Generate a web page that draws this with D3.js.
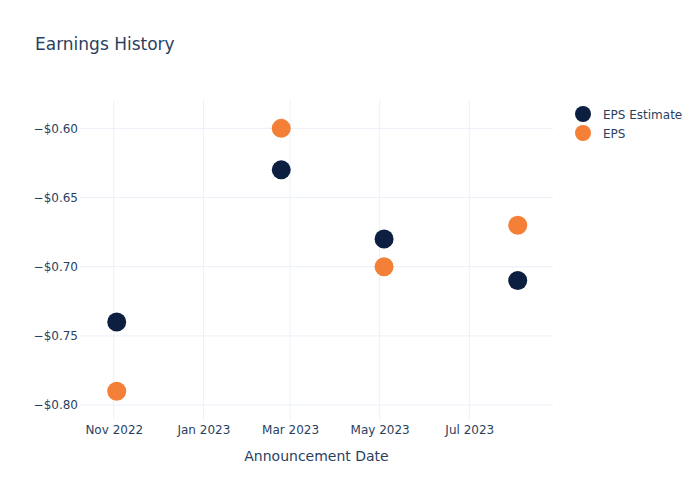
<!DOCTYPE html>
<html><head><meta charset="utf-8">
<script src="https://cdn.jsdelivr.net/npm/d3@7"></script>
<style>body{margin:0;background:#fff;} svg{display:block;font-family:"DejaVu Sans",sans-serif;}</style>
</head><body>
<svg id="c" width="700" height="500"></svg>
<script>
const dates = ["2022-11-03", "2023-02-23", "2023-05-04", "2023-08-03"];
const epsEstimate = [-0.74, -0.63, -0.68, -0.71];
const eps = [-0.79, -0.60, -0.70, -0.67];
const seriesNames = ["EPS Estimate", "EPS"];
const seriesColors = ["#0c1f40", "#f47f36"];
const yTicks = [-0.60, -0.65, -0.70, -0.75, -0.80];
const xTickDates = ["2022-11-01", "2023-01-01", "2023-03-01", "2023-05-01", "2023-07-01"];

const parse = d3.utcParse("%Y-%m-%d");
const svg = d3.select("#c");
const textColor = "#2a3f5f";
const gridColor = "#ebf0f8";
const font = '"DejaVu Sans",sans-serif';
const L = 80, R = 553, T = 100, B = 420;

const x = d3.scaleUtc().domain([parse("2022-10-09"), parse("2023-08-27")]).range([L, R]);
const y = d3.scaleLinear().domain([-0.8108, -0.5795]).range([B, T]);

// grid
const g = svg.append("g");
g.selectAll("line.h").data(yTicks).join("line")
  .attr("x1", L).attr("x2", R).attr("y1", d => y(d)).attr("y2", d => y(d))
  .attr("stroke", gridColor).attr("stroke-width", 1);
g.selectAll("line.v").data(xTickDates).join("line")
  .attr("x1", d => x(parse(d))).attr("x2", d => x(parse(d))).attr("y1", T).attr("y2", B)
  .attr("stroke", gridColor).attr("stroke-width", 1);

// axes
const fmtY = d => "\u2212$" + Math.abs(d).toFixed(2);
const yAxis = d3.axisLeft(y).tickValues(yTicks).tickFormat(fmtY).tickSize(0).tickPadding(2);
const ya = svg.append("g").attr("transform", `translate(${L},0)`).call(yAxis);
ya.select(".domain").remove();
ya.selectAll("text").attr("fill", textColor).style("font-size", "12px").style("font-family", font);

const xAxis = d3.axisBottom(x).tickValues(xTickDates.map(parse)).tickFormat(d3.utcFormat("%b %Y")).tickSize(0).tickPadding(5);
const xa = svg.append("g").attr("transform", `translate(0,${B})`).call(xAxis);
xa.select(".domain").remove();
xa.selectAll("text").attr("fill", textColor).style("font-size", "12px").style("font-family", font);

// points
const series = [epsEstimate, eps];
series.forEach((vals, i) => {
  svg.append("g").selectAll("circle").data(vals).join("circle")
    .attr("cx", (d, j) => x(parse(dates[j])))
    .attr("cy", d => y(d))
    .attr("r", 9.5)
    .attr("fill", seriesColors[i]);
});

// title
svg.append("text").attr("x", 35).attr("y", 50).text("Earnings History")
  .attr("fill", textColor).style("font-size", "17px");
svg.append("text").attr("x", (L + R) / 2).attr("y", 461).attr("text-anchor", "middle")
  .text("Announcement Date").attr("fill", textColor).style("font-size", "14px");

// legend
seriesNames.forEach((n, i) => {
  const ly = 114 + i * 19;
  svg.append("circle").attr("cx", 583).attr("cy", ly).attr("r", 8).attr("fill", seriesColors[i]);
  svg.append("text").attr("x", 603).attr("y", ly + 1).attr("dy", "0.35em").text(n)
    .attr("fill", textColor).style("font-size", "12px");
});
</script>
</body></html>
